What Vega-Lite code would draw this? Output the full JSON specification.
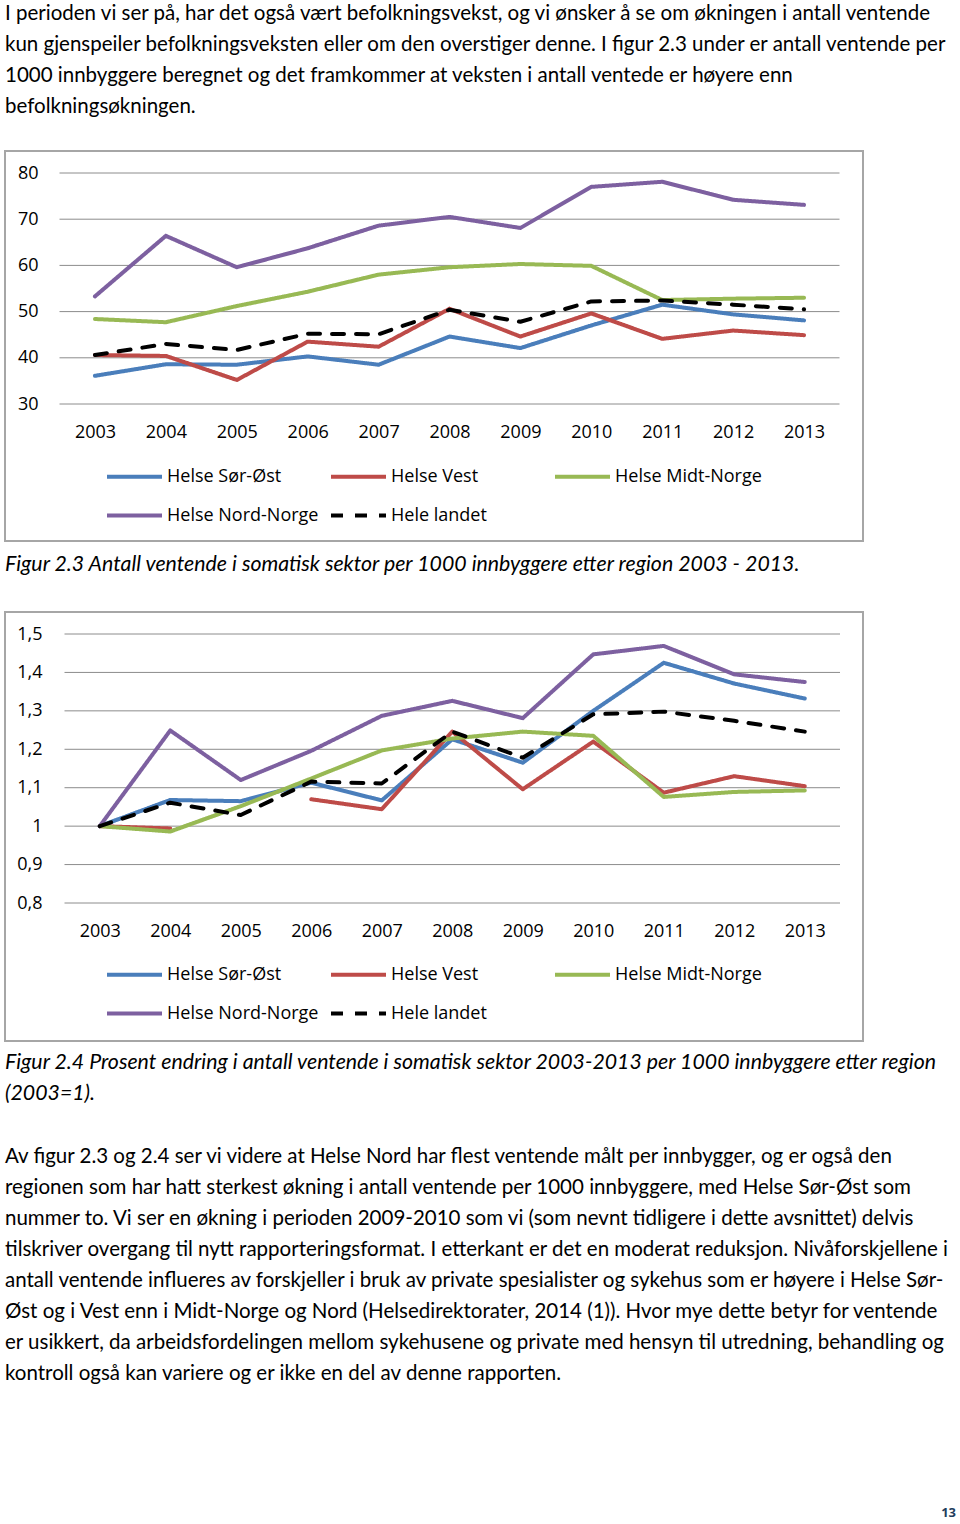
{
  "$schema": "https://vega.github.io/schema/vega-lite/v6.json",
  "background": "white",
  "padding": {"left": 4, "top": 2, "right": 0, "bottom": 0},
  "spacing": 10,
  "resolve": {
    "scale": {"color": "independent", "strokeDash": "independent", "x": "independent", "y": "independent"},
    "legend": {"color": "independent", "strokeDash": "independent"}
  },
  "config": {
    "view": {"stroke": null},
    "title": {"anchor": "start", "frame": "group", "color": "black", "fontWeight": "normal", "font": "Lato", "fontSize": 20.5, "lineHeight": 31, "limit": 2000},
    "axis": {"labelFont": "Open Sans", "labelFontSize": 18, "labelColor": "black", "domain": false, "ticks": false, "grid": false, "labelOverlap": false, "labelFlush": false}
  },
  "vconcat": [
    {
      "width": 858,
      "height": 390,
      "view": {"stroke": "#a6a6a6", "strokeWidth": 2},
      "title": {
        "text": [
          "I perioden vi ser på, har det også vært befolkningsvekst, og vi ønsker å se om økningen i antall ventende",
          "kun gjenspeiler befolkningsveksten eller om den overstiger denne. I figur 2.3 under er antall ventende per",
          "1000 innbyggere beregnet og det framkommer at veksten i antall ventede er høyere enn",
          "befolkningsøkningen."
        ],
        "offset": 34
      },
      "layer": [
        {
          "data": {"values": [{"value": 30}, {"value": 40}, {"value": 50}, {"value": 60}, {"value": 70}, {"value": 80}]},
          "mark": {"type": "rule", "color": "#8c8c8c", "strokeWidth": 1},
          "encoding": {
            "y": {"field": "value", "type": "quantitative", "scale": {"domain": [30, 80], "range": [253, 22], "nice": false, "zero": false},
              "axis": {"orient": "left", "title": null, "values": [30, 40, 50, 60, 70, 80], "offset": -54, "labelPadding": 21}},
            "x": {"datum": 2002.5, "type": "quantitative", "scale": {"domain": [2002.5, 2013.5], "range": [54.5, 834.5], "nice": false, "zero": false},
              "axis": {"orient": "bottom", "title": null, "values": [2003, 2004, 2005, 2006, 2007, 2008, 2009, 2010, 2011, 2012, 2013], "format": "d", "offset": -137, "labelPadding": 19}},
            "x2": {"datum": 2013.5}
          }
        },
        {
          "data": {"values": [
            {"year": 2003, "Helse Sør-Øst": 36.1, "Helse Vest": 40.6, "Helse Midt-Norge": 48.4, "Helse Nord-Norge": 53.3, "Hele landet": 40.6},
            {"year": 2004, "Helse Sør-Øst": 38.6, "Helse Vest": 40.4, "Helse Midt-Norge": 47.7, "Helse Nord-Norge": 66.4, "Hele landet": 43.0},
            {"year": 2005, "Helse Sør-Øst": 38.5, "Helse Vest": 35.2, "Helse Midt-Norge": 51.2, "Helse Nord-Norge": 59.6, "Hele landet": 41.7},
            {"year": 2006, "Helse Sør-Øst": 40.3, "Helse Vest": 43.5, "Helse Midt-Norge": 54.3, "Helse Nord-Norge": 63.7, "Hele landet": 45.2},
            {"year": 2007, "Helse Sør-Øst": 38.5, "Helse Vest": 42.4, "Helse Midt-Norge": 58.0, "Helse Nord-Norge": 68.6, "Hele landet": 45.1},
            {"year": 2008, "Helse Sør-Øst": 44.6, "Helse Vest": 50.6, "Helse Midt-Norge": 59.6, "Helse Nord-Norge": 70.5, "Hele landet": 50.4},
            {"year": 2009, "Helse Sør-Øst": 42.1, "Helse Vest": 44.6, "Helse Midt-Norge": 60.3, "Helse Nord-Norge": 68.1, "Hele landet": 47.8},
            {"year": 2010, "Helse Sør-Øst": 47.0, "Helse Vest": 49.6, "Helse Midt-Norge": 59.9, "Helse Nord-Norge": 77.0, "Hele landet": 52.2},
            {"year": 2011, "Helse Sør-Øst": 51.5, "Helse Vest": 44.1, "Helse Midt-Norge": 52.5, "Helse Nord-Norge": 78.1, "Hele landet": 52.4},
            {"year": 2012, "Helse Sør-Øst": 49.4, "Helse Vest": 45.9, "Helse Midt-Norge": 52.8, "Helse Nord-Norge": 74.2, "Hele landet": 51.5},
            {"year": 2013, "Helse Sør-Øst": 48.1, "Helse Vest": 44.9, "Helse Midt-Norge": 53.0, "Helse Nord-Norge": 73.1, "Hele landet": 50.5}
          ]},
          "transform": [{"fold": ["Helse Sør-Øst", "Helse Vest", "Helse Midt-Norge", "Helse Nord-Norge", "Hele landet"], "as": ["region", "value"]}],
          "mark": {"type": "line", "strokeWidth": 4, "strokeCap": "round", "strokeJoin": "round", "invalid": "break-paths-filter-domains"},
          "encoding": {
            "x": {"field": "year", "type": "quantitative", "scale": {"domain": [2002.5, 2013.5], "range": [54.5, 834.5], "nice": false, "zero": false},
              "axis": {"orient": "bottom", "title": null, "values": [2003, 2004, 2005, 2006, 2007, 2008, 2009, 2010, 2011, 2012, 2013], "format": "d", "offset": -137, "labelPadding": 19}},
            "y": {"field": "value", "type": "quantitative", "scale": {"domain": [30, 80], "range": [253, 22], "nice": false, "zero": false},
              "axis": {"orient": "left", "title": null, "values": [30, 40, 50, 60, 70, 80], "offset": -54, "labelPadding": 21}},
            "color": {"field": "region", "type": "nominal",
              "scale": {"domain": ["Helse Sør-Øst", "Helse Vest", "Helse Midt-Norge", "Helse Nord-Norge", "Hele landet"], "range": ["#4a7ebb", "#be4b48", "#98b954", "#7d60a0", "#000000"]},
              "legend": {"title": null, "orient": "none", "legendX": 100, "legendY": 296, "padding": 0, "direction": "horizontal", "columns": 3, "symbolType": "stroke", "symbolSize": 3025, "symbolStrokeWidth": 4, "labelFont": "Open Sans", "labelFontSize": 18, "labelColor": "black", "labelOffset": 3, "columnPadding": 4, "rowPadding": -1, "gridAlign": "all", "labelLimit": 400}},
            "strokeDash": {"field": "region", "type": "nominal",
              "scale": {"domain": ["Helse Sør-Øst", "Helse Vest", "Helse Midt-Norge", "Helse Nord-Norge", "Hele landet"], "range": [[1, 0], [1, 0], [1, 0], [1, 0], [12, 12]]},
              "legend": {"title": null, "orient": "none", "legendX": 100, "legendY": 296, "padding": 0, "direction": "horizontal", "columns": 3, "symbolType": "stroke", "symbolSize": 3025, "symbolStrokeWidth": 4, "labelFont": "Open Sans", "labelFontSize": 18, "labelColor": "black", "labelOffset": 3, "columnPadding": 4, "rowPadding": -1, "gridAlign": "all", "labelLimit": 400}}
          }
        }
      ]
    },
    {
      "width": 858,
      "height": 429,
      "view": {"stroke": "#a6a6a6", "strokeWidth": 2},
      "title": {"text": "Figur 2.3 Antall ventende i somatisk sektor per 1000 innbyggere etter region 2003 - 2013.", "fontStyle": "italic", "fontSize": 21.3, "offset": 37},
      "layer": [
        {
          "data": {"values": [{"value": 0.8}, {"value": 0.9}, {"value": 1.0}, {"value": 1.1}, {"value": 1.2}, {"value": 1.3}, {"value": 1.4}, {"value": 1.5}]},
          "mark": {"type": "rule", "color": "#8c8c8c", "strokeWidth": 1},
          "encoding": {
            "y": {"field": "value", "type": "quantitative", "scale": {"domain": [0.8, 1.5], "range": [291, 22], "nice": false, "zero": false},
              "axis": {"orient": "left", "title": null, "values": [0.8, 0.9, 1.0, 1.1, 1.2, 1.3, 1.4, 1.5], "labelExpr": "replace(format(datum.value, '.1~f'), '.', ',')", "offset": -59, "labelPadding": 22}},
            "x": {"datum": 2002.5, "type": "quantitative", "scale": {"domain": [2002.5, 2013.5], "range": [59.5, 835], "nice": false, "zero": false},
              "axis": {"orient": "bottom", "title": null, "values": [2003, 2004, 2005, 2006, 2007, 2008, 2009, 2010, 2011, 2012, 2013], "format": "d", "offset": -138, "labelPadding": 19}},
            "x2": {"datum": 2013.5}
          }
        },
        {
          "data": {"values": [
            {"year": 2003, "Helse Sør-Øst": 1.0, "Helse Vest": 1.0, "Helse Midt-Norge": 1.0, "Helse Nord-Norge": 1.0, "Hele landet": 1.0},
            {"year": 2004, "Helse Sør-Øst": 1.068, "Helse Vest": 0.994, "Helse Midt-Norge": 0.986, "Helse Nord-Norge": 1.249, "Hele landet": 1.061},
            {"year": 2005, "Helse Sør-Øst": 1.065, "Helse Vest": null, "Helse Midt-Norge": 1.052, "Helse Nord-Norge": 1.120, "Hele landet": 1.029},
            {"year": 2006, "Helse Sør-Øst": 1.113, "Helse Vest": 1.070, "Helse Midt-Norge": 1.124, "Helse Nord-Norge": 1.196, "Hele landet": 1.116},
            {"year": 2007, "Helse Sør-Øst": 1.067, "Helse Vest": 1.044, "Helse Midt-Norge": 1.197, "Helse Nord-Norge": 1.287, "Hele landet": 1.111},
            {"year": 2008, "Helse Sør-Øst": 1.226, "Helse Vest": 1.246, "Helse Midt-Norge": 1.228, "Helse Nord-Norge": 1.326, "Hele landet": 1.246},
            {"year": 2009, "Helse Sør-Øst": 1.165, "Helse Vest": 1.096, "Helse Midt-Norge": 1.246, "Helse Nord-Norge": 1.281, "Hele landet": 1.178},
            {"year": 2010, "Helse Sør-Øst": 1.300, "Helse Vest": 1.220, "Helse Midt-Norge": 1.235, "Helse Nord-Norge": 1.447, "Hele landet": 1.291},
            {"year": 2011, "Helse Sør-Øst": 1.425, "Helse Vest": 1.087, "Helse Midt-Norge": 1.076, "Helse Nord-Norge": 1.469, "Hele landet": 1.298},
            {"year": 2012, "Helse Sør-Øst": 1.371, "Helse Vest": 1.130, "Helse Midt-Norge": 1.089, "Helse Nord-Norge": 1.395, "Hele landet": 1.274},
            {"year": 2013, "Helse Sør-Øst": 1.332, "Helse Vest": 1.104, "Helse Midt-Norge": 1.093, "Helse Nord-Norge": 1.375, "Hele landet": 1.246}
          ]},
          "transform": [{"fold": ["Helse Sør-Øst", "Helse Vest", "Helse Midt-Norge", "Helse Nord-Norge", "Hele landet"], "as": ["region", "value"]}],
          "mark": {"type": "line", "strokeWidth": 4, "strokeCap": "round", "strokeJoin": "round", "invalid": "break-paths-filter-domains"},
          "encoding": {
            "x": {"field": "year", "type": "quantitative", "scale": {"domain": [2002.5, 2013.5], "range": [59.5, 835], "nice": false, "zero": false},
              "axis": {"orient": "bottom", "title": null, "values": [2003, 2004, 2005, 2006, 2007, 2008, 2009, 2010, 2011, 2012, 2013], "format": "d", "offset": -138, "labelPadding": 19}},
            "y": {"field": "value", "type": "quantitative", "scale": {"domain": [0.8, 1.5], "range": [291, 22], "nice": false, "zero": false},
              "axis": {"orient": "left", "title": null, "values": [0.8, 0.9, 1.0, 1.1, 1.2, 1.3, 1.4, 1.5], "labelExpr": "replace(format(datum.value, '.1~f'), '.', ',')", "offset": -59, "labelPadding": 22}},
            "color": {"field": "region", "type": "nominal",
              "scale": {"domain": ["Helse Sør-Øst", "Helse Vest", "Helse Midt-Norge", "Helse Nord-Norge", "Hele landet"], "range": ["#4a7ebb", "#be4b48", "#98b954", "#7d60a0", "#000000"]},
              "legend": {"title": null, "orient": "none", "legendX": 100, "legendY": 333, "padding": 0, "direction": "horizontal", "columns": 3, "symbolType": "stroke", "symbolSize": 3025, "symbolStrokeWidth": 4, "labelFont": "Open Sans", "labelFontSize": 18, "labelColor": "black", "labelOffset": 3, "columnPadding": 4, "rowPadding": -1, "gridAlign": "all", "labelLimit": 400}},
            "strokeDash": {"field": "region", "type": "nominal",
              "scale": {"domain": ["Helse Sør-Øst", "Helse Vest", "Helse Midt-Norge", "Helse Nord-Norge", "Hele landet"], "range": [[1, 0], [1, 0], [1, 0], [1, 0], [12, 12]]},
              "legend": {"title": null, "orient": "none", "legendX": 100, "legendY": 333, "padding": 0, "direction": "horizontal", "columns": 3, "symbolType": "stroke", "symbolSize": 3025, "symbolStrokeWidth": 4, "labelFont": "Open Sans", "labelFontSize": 18, "labelColor": "black", "labelOffset": 3, "columnPadding": 4, "rowPadding": -1, "gridAlign": "all", "labelLimit": 400}}
          }
        }
      ]
    },
    {
      "width": 956,
      "height": 113,
      "data": {"values": []},
      "mark": "text",
      "encoding": {},
      "title": {
        "text": ["Figur 2.4 Prosent endring i antall ventende i somatisk sektor 2003-2013 per 1000 innbyggere etter region", "(2003=1)."],
        "fontStyle": "italic",
        "fontSize": 21.3,
        "subtitle": [
          "Av figur 2.3 og 2.4 ser vi videre  at Helse Nord har flest ventende målt per innbygger, og er også den",
          "regionen som har hatt sterkest økning i antall ventende per 1000 innbyggere, med Helse Sør-Øst som",
          "nummer to. Vi ser en økning i perioden 2009-2010 som vi (som nevnt tidligere i dette avsnittet) delvis",
          "tilskriver overgang til nytt rapporteringsformat. I etterkant er det en moderat reduksjon. Nivåforskjellene i",
          "antall ventende influeres av forskjeller i bruk av private spesialister og sykehus som er høyere i Helse Sør-",
          "Øst og i Vest enn i Midt-Norge og Nord (Helsedirektorater, 2014 (1)). Hvor mye dette betyr for ventende",
          "er usikkert, da arbeidsfordelingen mellom sykehusene og private med hensyn til utredning, behandling og",
          "kontroll også kan variere og er ikke en del av denne rapporten."
        ],
        "subtitleFont": "Lato",
        "subtitleFontSize": 20.5,
        "subtitleColor": "black",
        "subtitleFontStyle": "normal",
        "subtitleLineHeight": 31,
        "subtitlePadding": 42,
        "offset": 0
      }
    },
    {
      "width": 951,
      "height": 1,
      "data": {"values": []},
      "mark": "text",
      "encoding": {},
      "title": {"text": "13", "anchor": "end", "font": "Open Sans", "fontSize": 13, "fontWeight": "bold", "color": "#1f3d5c", "offset": 0}
    }
  ]
}
